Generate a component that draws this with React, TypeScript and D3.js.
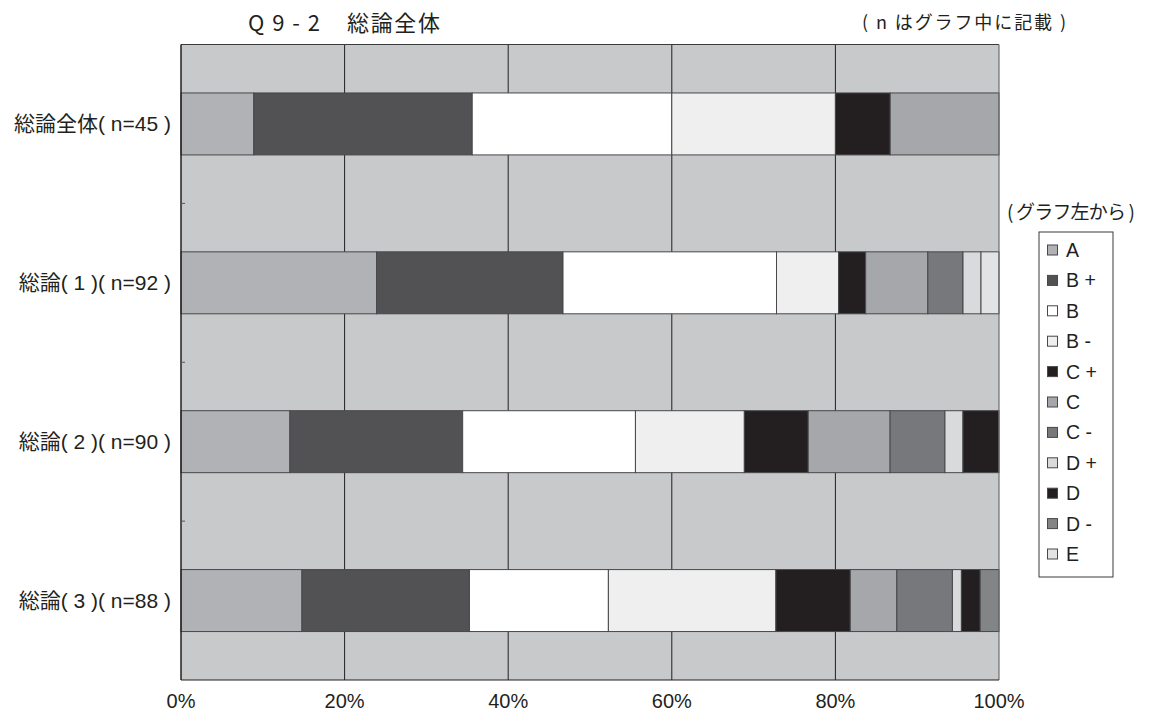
import React from "react";
import * as d3 from "d3";

const categories = ["総論全体( n=45 )", "総論( 1 )( n=92 )", "総論( 2 )( n=90 )", "総論( 3 )( n=88 )"];
const grades = ["A", "B+", "B", "B-", "C+", "C", "C-", "D+", "D", "D-", "E"];
const legendLabels = ["A", "B +", "B", "B -", "C +", "C", "C -", "D +", "D", "D -", "E"];

const valuesA = [8.9, 23.9, 13.3, 14.8];
const valuesBPlus = [26.7, 22.8, 21.1, 20.5];
const valuesB = [24.4, 26.1, 21.1, 17.0];
const valuesBMinus = [20.0, 7.6, 13.3, 20.5];
const valuesCPlus = [6.7, 3.3, 7.8, 9.1];
const valuesC = [13.3, 7.6, 10.0, 5.7];
const valuesCMinus = [0, 4.3, 6.7, 6.8];
const valuesDPlus = [0, 2.2, 2.2, 1.1];
const valuesD = [0, 0, 4.4, 2.3];
const valuesDMinus = [0, 0, 0, 2.3];
const valuesE = [0, 2.2, 0, 0];

const seriesValues = [
  valuesA, valuesBPlus, valuesB, valuesBMinus, valuesCPlus, valuesC,
  valuesCMinus, valuesDPlus, valuesD, valuesDMinus, valuesE,
];

const gradeColors = [
  "#b1b2b5", "#525254", "#ffffff", "#eeefee", "#231f20", "#a6a7aa",
  "#77787b", "#d9dadc", "#231f20", "#838486", "#e2e3e5",
];

const xTicks = [0, 0.2, 0.4, 0.6, 0.8, 1];

const W = 1150;
const H = 713;
const left = 181;
const right = 999;
const top = 44.5;
const bottom = 680;
const ink = "#231f20";
const latin = "'Liberation Sans', Arial, 'Noto Sans CJK JP', sans-serif";
const cjk = "'Noto Sans CJK JP', 'Liberation Sans', sans-serif";

export default function App() {
  const rows = categories.map((c, i) => {
    const r: any = { cat: c };
    grades.forEach((g, k) => (r[g] = seriesValues[k][i]));
    return r;
  });
  const stacked = d3.stack<any>().keys(grades).offset(d3.stackOffsetExpand)(rows);
  const x = d3.scaleLinear().domain([0, 1]).range([left, right]);
  const y = d3
    .scaleBand<string>()
    .domain(categories)
    .range([top, bottom])
    .paddingInner(0.61)
    .paddingOuter(0.305);
  const step = y.step();
  const boundaries = categories.slice(1).map((c) => (y(c) as number) - (step - y.bandwidth()) / 2);

  const legendX = 1039;
  const legendY = 232;
  const legendStep = 30.4;

  return (
    <svg width={W} height={H} style={{ position: "absolute", left: 0, top: 0 }}>
      <rect x={0} y={0} width={W} height={H} fill="#ffffff" />
      {/* title */}
      <text x={248} y={31} fontFamily={cjk} fontSize={22} fill={ink} textLength={72} lengthAdjust="spacing">
        Q 9 - 2
      </text>
      <text x={347} y={31} fontFamily={cjk} fontSize={22} fill={ink} textLength={93} lengthAdjust="spacing">
        総論全体
      </text>
      <text x={862} y={29} fontFamily={cjk} fontSize={18} fill={ink} textLength={204} lengthAdjust="spacing">
        ( n はグラフ中に記載 )
      </text>

      {/* plot background */}
      <rect x={left} y={top} width={right - left} height={bottom - top} fill="#c8c9cb" />
      {xTicks.slice(1, -1).map((t) => (
        <line key={t} x1={x(t)} x2={x(t)} y1={top} y2={bottom} stroke={ink} strokeWidth={1} />
      ))}

      {/* bars */}
      {stacked.map((s, k) =>
        s.map((d, i) => {
          const w = x(d[1]) - x(d[0]);
          if (w <= 0.01) return null;
          return (
            <rect
              key={`${k}-${i}`}
              x={x(d[0])}
              y={y(categories[i])}
              width={w}
              height={y.bandwidth()}
              fill={gradeColors[k]}
              stroke="#48484a"
              strokeWidth={1}
            />
          );
        })
      )}

      {/* frame */}
      <line x1={left} x2={right} y1={top} y2={top} stroke="#3a3a3c" strokeWidth={1.2} />
      <line x1={right} x2={right} y1={top} y2={bottom} stroke="#6d6e71" strokeWidth={1.2} />
      <line x1={left} x2={right} y1={bottom} y2={bottom} stroke={ink} strokeWidth={1.2} />
      <line x1={left} x2={left} y1={top} y2={bottom} stroke={ink} strokeWidth={1.5} />
      {boundaries.map((b, i) => (
        <line key={i} x1={left} x2={left + 4} y1={b} y2={b} stroke="#555" strokeWidth={1} />
      ))}

      {/* y labels */}
      {categories.map((c) => (
        <text
          key={c}
          x={171}
          y={(y(c) as number) + y.bandwidth() / 2 + 7.5}
          textAnchor="end"
          fontFamily={latin}
          fontSize={21}
          fill={ink}
        >
          {c}
        </text>
      ))}

      {/* x labels */}
      {xTicks.map((t) => (
        <text key={t} x={x(t)} y={708} textAnchor="middle" fontFamily={latin} fontSize={20} fill={ink}>
          {`${Math.round(t * 100)}%`}
        </text>
      ))}

      {/* legend */}
      <text x={1007} y={219} fontFamily={cjk} fontSize={19} fill={ink} textLength={128} lengthAdjust="spacing">
        ( グラフ左から )
      </text>
      <rect x={legendX} y={legendY} width={74} height={345} fill="#ffffff" stroke="#3a3a3c" strokeWidth={1} />
      {legendLabels.map((l, k) => {
        const cy = legendY + 18 + k * legendStep;
        return (
          <g key={l}>
            <rect x={1047.5} y={cy - 5} width={10} height={10} fill={gradeColors[k]} stroke="#48484a" strokeWidth={1} />
            <text x={1066} y={cy + 7} fontFamily={latin} fontSize={19.5} fill={ink} style={{ whiteSpace: "pre" }}>
              {l}
            </text>
          </g>
        );
      })}
    </svg>
  );
}
